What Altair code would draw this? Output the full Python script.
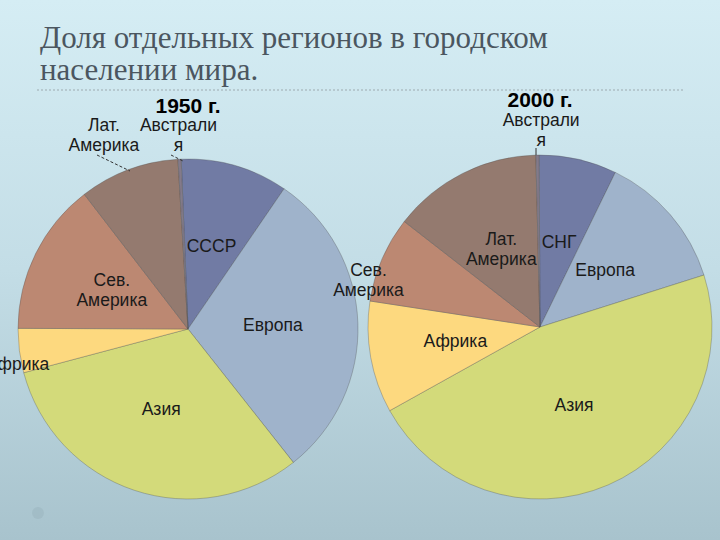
import json
import math
import altair as alt
import pandas as pd

# ---------------- data ----------------
regions_1950 = ["СССР", "Европа", "Азия", "Африка", "Сев. Америка", "Лат. Америка", "Австралия"]
share_1950 = [10.2, 29.8, 31.5, 4.2, 14.5, 9.5, 0.3]
labels_1950 = ["СССР", "Европа", "Азия", "Африка", "Сев.\nАмерика", "Лат.\nАмерика", "Австрали\nя"]

regions_2000 = ["СНГ", "Европа", "Азия", "Африка", "Сев. Америка", "Лат. Америка", "Австралия"]
share_2000 = [7.3, 12.9, 46.8, 10.5, 8.1, 14.1, 0.3]
labels_2000 = ["СНГ", "Европа", "Азия", "Африка", "Сев.\nАмерика", "Лат.\nАмерика", "Австрали\nя"]

color_domain = ["СССР", "СНГ", "Европа", "Азия", "Африка", "Сев. Америка", "Лат. Америка", "Австралия"]
color_range = ["#717ba4", "#717ba4", "#9fb3cb", "#d3da7a", "#fdd97f", "#bc8872", "#947a6f", "#837a8a"]

main_title = "Доля отдельных регионов в городском\nнаселении мира."
year_titles = ["1950 г.", "2000 г."]

df1950 = pd.DataFrame({"region": regions_1950, "share": share_1950,
                       "label": labels_1950, "k": list(range(len(regions_1950)))})
df2000 = pd.DataFrame({"region": regions_2000, "share": share_2000,
                       "label": labels_2000, "k": list(range(len(regions_2000)))})

W, H = 720, 540
TWO_PI = 2 * math.pi
one = pd.DataFrame({"a": [0]})

color_scale = alt.Scale(domain=color_domain, range=color_range)


def pie_layers(df, cx, cy, r, start_deg, label_specs):
    a0 = math.radians(start_deg)
    theta = alt.Theta("share:Q", stack=True, scale=alt.Scale(range=[a0, a0 + TWO_PI]))
    order = alt.Order("k:Q")
    base = alt.Chart(df)
    arc = base.mark_arc(outerRadius=r, stroke="#4a4a4a", strokeWidth=0.7, strokeOpacity=0.45).encode(
        theta=theta, order=order,
        color=alt.Color("region:N", scale=color_scale, legend=None),
        x=alt.value(cx), y=alt.value(cy),
    )
    out = [arc]

    def lab(names, radius, dx=0, dy=0):
        expr = "indexof(%s, datum.region) >= 0 ? datum.label : ''" % json.dumps(names, ensure_ascii=False)
        return base.transform_calculate(show=expr).mark_text(
            radius=radius, dx=dx, dy=dy, font="Liberation Sans", fontSize=17.5,
            lineBreak="\n", lineHeight=20, color="#1a1a1a", align="center", baseline="middle",
        ).encode(theta=theta, order=order, detail="region:N", text="show:N",
                 x=alt.value(cx), y=alt.value(cy))

    for names, rad, dx, dy in label_specs:
        out.append(lab(names, rad, dx, dy))
    return out


layers = []

# background gradient
bg = alt.Chart(one).mark_rect(
    color=alt.LinearGradient(
        gradient="linear", x1=0, x2=0, y1=0, y2=1,
        stops=[alt.GradientStop(color="#d5edf4", offset=0),
               alt.GradientStop(color="#c3dde6", offset=0.5),
               alt.GradientStop(color="#a8c3cd", offset=1)],
    )
).encode(x=alt.value(0), x2=alt.value(W), y=alt.value(0), y2=alt.value(H))
layers.append(bg)

# faint decorative dot
layers.append(alt.Chart(one).mark_circle(size=140, color="#9ab3be", opacity=0.5).encode(
    x=alt.value(38), y=alt.value(513)))

# main title
layers.append(alt.Chart(one).mark_text(
    text=main_title, lineBreak="\n", lineHeight=32, font="Liberation Serif", fontSize=31,
    color="#4b5660", align="left", baseline="alphabetic",
).encode(x=alt.value(40), y=alt.value(48)))

# dotted separator
layers.append(alt.Chart(one).mark_rule(color="#aebfc5", strokeDash=[2, 2], strokeWidth=1.5).encode(
    x=alt.value(37), x2=alt.value(685), y=alt.value(90)))

# pies (label groups: names, radius, dx, dy)
layers += pie_layers(df1950, 188, 329, 170, -2.3, [
    (["СССР", "Европа", "Азия"], 85, 0, 0),
    (["Сев. Америка"], 85, 0, -10),
    (["Африка"], 172, 0, 14),
    (["Лат. Америка"], 206, -12, -10),
    (["Австралия"], 193, 0, -10),
])
layers += pie_layers(df2000, 540, 327, 172, -0.3, [
    (["СНГ", "Европа", "Азия", "Африка"], 86, 0, 0),
    (["Лат. Америка"], 86, 0, -10),
    (["Сев. Америка"], 178, -8, 14),
    (["Австралия"], 196, 4, -10),
])

# leader lines
layers.append(alt.Chart(one).mark_rule(color="#333333", strokeDash=[3, 2], strokeWidth=1).encode(
    x=alt.value(97), y=alt.value(155), x2=alt.value(130), y2=alt.value(171)))
layers.append(alt.Chart(one).mark_rule(color="#333333", strokeDash=[3, 2], strokeWidth=1).encode(
    x=alt.value(171), y=alt.value(155), x2=alt.value(183), y2=alt.value(161)))
layers.append(alt.Chart(one).mark_rule(color="#333333", strokeWidth=1).encode(
    x=alt.value(536), y=alt.value(148), x2=alt.value(536), y2=alt.value(155)))

# year titles
layers.append(alt.Chart(one).mark_text(
    text=year_titles[0], font="Liberation Sans", fontSize=21, fontWeight="bold",
    color="#000000", align="center", baseline="middle").encode(x=alt.value(188), y=alt.value(107)))
layers.append(alt.Chart(one).mark_text(
    text=year_titles[1], font="Liberation Sans", fontSize=21, fontWeight="bold",
    color="#000000", align="center", baseline="middle").encode(x=alt.value(540), y=alt.value(101)))

chart = alt.layer(*layers).resolve_scale(theta="independent").properties(
    width=W, height=H, padding=0, autosize="none", background="#c5dde6"
).configure_view(stroke=None)

chart.save("out.html", embed_options={"renderer": "svg", "actions": False})
